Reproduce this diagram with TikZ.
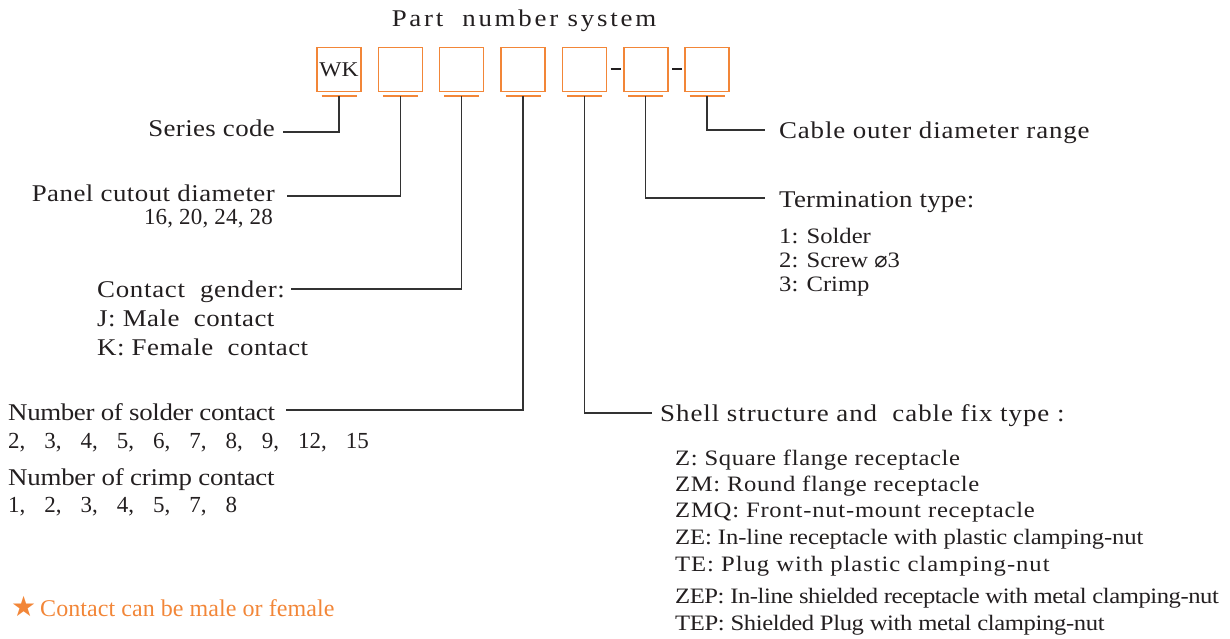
\documentclass[tikz,border=0pt]{standalone}
\usepackage{fontspec}
\setmainfont{Liberation Serif}[FakeStretch=1.12]
\newfontfamily\plainrm{Liberation Serif}
\newfontfamily\dejavu{DejaVu Sans}
\usetikzlibrary{calc}
\definecolor{org}{RGB}{242,134,56}
\definecolor{ink}{RGB}{35,31,32}
\definecolor{wire}{RGB}{50,50,50}
\newcommand\myF[2]{\fontsize{#1}{#1}\selectfont\addfontfeatures{LetterSpace=#2}}
\newcommand\myP[2]{\plainrm\fontsize{#1}{#1}\selectfont\addfontfeatures{LetterSpace=#2}}
\newcommand\sepc{,\hspace{19pt}}
\begin{document}
\begin{tikzpicture}[x=1pt,y=-1pt,
  box/.style={draw=org,line width=1.5pt,minimum size=44pt,inner sep=0pt,text=ink},
  oline/.style={draw=org,line width=1.6pt},
  conn/.style={draw=wire,line width=1.3pt},
  dashline/.style={draw=ink,line width=2pt},
  lbl/.style={inner sep=0pt,text=ink}]
\useasboundingbox (0,0) rectangle (1230,639);

% title
\node[lbl,anchor=base,font=\myF{24}{11.5}] (title) at (524,27) {Part\ \ number system};

% boxes
\node[box,font=\myF{21}{1}] (b1) at (339,69.5) {WK};
\foreach \i/\x in {2/400.35,3/461.7,4/523.05,5/584.4,6/645.75,7/707.1}
  \node[box] (b\i) at (\x,69.5) {};
\foreach \i/\x in {1/339,2/400.35,3/461.7,4/523.05,5/584.4,6/645.75,7/707.1}{
  \coordinate (u\i) at (\x,96.3);
  \draw[oline] ($(u\i)+(-17.5,0)$) -- ($(u\i)+(17.5,0)$);
}
\draw[dashline] ($(b5.east)+(3.5,0)$) -- ($(b6.west)+(-2.5,0)$);
\draw[dashline] ($(b6.east)+(3.5,0)$) -- ($(b7.west)+(-2.5,0)$);

% left labels
\node[lbl,anchor=base east,font=\myF{24}{1.5}] (sc) at (275,137) {Series code};
\node[lbl,anchor=base east,font=\myF{24}{2}] (pc) at (275,201) {Panel cutout diameter};
\node[lbl,anchor=base east,font=\myP{23}{1}] (pcn) at (273,224) {16, 20, 24, 28};
\node[lbl,anchor=base west,font=\myF{24}{3}] (cg) at (97,297) {Contact\ \ gender:};
\node[lbl,anchor=base west,font=\myF{24}{2}] (cgj) at (97,326) {J: Male\ \ contact};
\node[lbl,anchor=base west,font=\myF{24}{2}] (cgk) at (97,355) {K: Female\ \ contact};
\node[lbl,anchor=base west,font=\myF{24}{-1.5}] (ns) at (8,420) {Number of solder contact};
\node[lbl,anchor=base west,font=\myP{23}{0}] (nsn) at (8,448) {2\sepc 3\sepc 4\sepc 5\sepc 6\sepc 7\sepc 8\sepc 9\sepc 12\sepc 15};
\node[lbl,anchor=base west,font=\myF{24}{-1}] (nc) at (8,485) {Number of crimp contact};
\node[lbl,anchor=base west,font=\myP{23}{0}] (ncn) at (8,512) {1\sepc 2\sepc 3\sepc 4\sepc 5\sepc 7\sepc 8};
\node[lbl,anchor=base west,text=org,font=\dejavu\fontsize{28}{28}\selectfont] (star) at (11,616) {★};
\node[lbl,anchor=base west,text=org,font=\myP{24}{0.3}] (note) at (40,616) {Contact can be male or female};

% right labels
\node[lbl,anchor=base west,font=\myF{24}{3.5}] (co) at (779,139) {Cable outer diameter range};
\node[lbl,anchor=base west,font=\myF{24}{1}] (tt) at (779,207) {Termination type:};
\node[lbl,anchor=base west,font=\myF{22}{0}] (t1) at (779,243) {1: Solder};
\node[lbl,anchor=base west,font=\myF{22}{0}] (t2) at (779,267) {2: Screw {\dejavu\fontsize{22}{22}\selectfont ⌀}3};
\node[lbl,anchor=base west,font=\myF{22}{0}] (t3) at (779,291) {3: Crimp};
\node[lbl,anchor=base west,font=\myF{24}{4}] (sh) at (660,421) {Shell structure and\ \ cable fix type :};
\node[lbl,anchor=base west,font=\myF{22}{2.9}] (z1) at (675,465) {Z: Square flange receptacle};
\node[lbl,anchor=base west,font=\myF{22}{2.9}] (z2) at (675,491) {ZM: Round flange receptacle};
\node[lbl,anchor=base west,font=\myF{22}{3.5}] (z3) at (675,517) {ZMQ: Front-nut-mount receptacle};
\node[lbl,anchor=base west,font=\myF{22}{-0.5}] (z4) at (675,544) {ZE: In-line receptacle with plastic clamping-nut};
\node[lbl,anchor=base west,font=\myF{22}{4.4}] (z5) at (675,571) {TE: Plug with plastic clamping-nut};
\node[lbl,anchor=base west,font=\myF{22}{-2}] (z6) at (675,603) {ZEP: In-line shielded receptacle with metal clamping-nut};
\node[lbl,anchor=base west,font=\myF{22}{-1.7}] (z7) at (675,630) {TEP: Shielded Plug with metal clamping-nut};

% connector ends
\coordinate (cS) at (283,132);
\coordinate (cP) at (287,196);
\coordinate (cG) at (291,289);
\coordinate (cN) at (286,410);
\coordinate (cSh) at (652,413);
\coordinate (cT) at (765,198);
\coordinate (cC) at (765,130);

\draw[conn] (u1) |- (cS);
\draw[conn] (u2) |- (cP);
\draw[conn] (u3) |- (cG);
\draw[conn] (u4) |- (cN);
\draw[conn] (u5) |- (cSh);
\draw[conn] (u6) |- (cT);
\draw[conn] (u7) |- (cC);
\end{tikzpicture}
\end{document}
